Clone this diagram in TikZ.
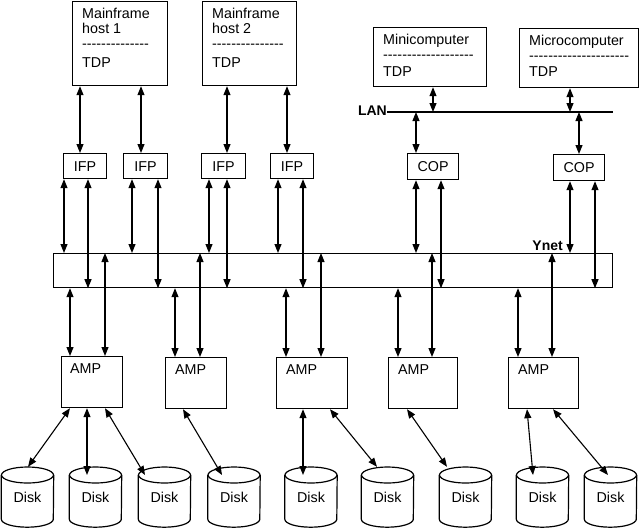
\documentclass[tikz,border=0pt]{standalone}
\usepackage{fontspec}
\setmainfont{Liberation Sans}
\usetikzlibrary{arrows.meta}
\newcommand\hy{\mbox{-}}
\newcommand\dashrow[1]{\foreach \i in {1,...,#1}{\hy}}
\newcommand\diskc[2]{%
  \node[diskbox] (#1) at (#2,497) {Disk};
  \coordinate (#1top) at (#2,475);
  \draw[boxline] (#1top) ellipse [x radius=26pt, y radius=8pt];
  \draw[boxline] ([yshift=-8pt]#1.north west) -- ([yshift=8pt]#1.south west)
     arc [start angle=180, end angle=360, x radius=26pt, y radius=8pt]
     -- ([yshift=-8pt]#1.north east);
}
\begin{document}
\begin{tikzpicture}[x=1pt,y=-1pt,
  boxline/.style={line width=1.2pt},
  box/.style={draw, line width=1.2pt, rectangle, inner sep=0pt, anchor=north west,
              font=\fontsize{14.3}{16}\selectfont},
  txt/.style={font=\fontsize{14.3}{16}\selectfont, inner sep=0pt, anchor=base west},
  bl/.style={font=\fontsize{14}{16}\selectfont\bfseries, inner sep=0pt},
  diskbox/.style={minimum width=52pt, minimum height=60pt, inner sep=0pt,
                  font=\fontsize{14.3}{16}\selectfont},
  conn/.style={line width=1.1pt, {Triangle[length=9pt,width=7pt]}-{Triangle[length=9pt,width=7pt]}},
  plain/.style={line width=1.1pt}]
\useasboundingbox (0,0) rectangle (640,531);

% ---- top hosts
\node[box, minimum width=95pt, minimum height=84pt] (mf1) at (72,1) {};
\node[txt] (mf1a) at (82,18) {Mainframe};
\node[txt] (mf1b) at (82,33) {host 1};
\node[txt] (mf1c) at (82,48) {\dashrow{14}};
\node[txt] (mf1d) at (82,67) {TDP};

\node[box, minimum width=94pt, minimum height=84pt] (mf2) at (202,1) {};
\node[txt] (mf2a) at (212,18) {Mainframe};
\node[txt] (mf2b) at (212,33) {host 2};
\node[txt] (mf2c) at (212,48) {\dashrow{15}};
\node[txt] (mf2d) at (212,67) {TDP};

\node[box, minimum width=113pt, minimum height=59pt] (mini) at (373,27) {};
\node[txt] (minia) at (383,44) {Minicomputer};
\node[txt] (minic) at (383,59) {\dashrow{19}};
\node[txt] (minid) at (383,76) {TDP};

\node[box, minimum width=119pt, minimum height=59pt] (micro) at (519,28) {};
\node[txt] (microa) at (529,45) {Microcomputer};
\node[txt] (microc) at (529,60) {\dashrow{21}};
\node[txt] (microd) at (529,76) {TDP};

% ---- LAN
\coordinate (lanL) at (387,112);
\coordinate (lanR) at (613,112);
\draw[plain] (lanL) -- (lanR);
\node[bl, anchor=base east] (lan) at ([yshift=-3pt]lanL) {LAN};

% ---- IFP / COP
\node[box, minimum width=43pt, minimum height=25pt] (ifp1) at (63,153) {IFP};
\node[box, minimum width=44pt, minimum height=25pt] (ifp2) at (123,153) {IFP};
\node[box, minimum width=44pt, minimum height=25pt] (ifp3) at (201,153) {IFP};
\node[box, minimum width=43pt, minimum height=25pt] (ifp4) at (270,153) {IFP};
\node[box, minimum width=51pt, minimum height=26pt] (cop1) at (407,153) {COP};
\node[box, minimum width=51pt, minimum height=26pt] (cop2) at (553,154) {COP};

% ---- Ynet
\node[box, minimum width=559pt, minimum height=34pt] (ynet) at (53,253) {};
\node[bl, anchor=base east] (ynetlbl) at (563,250) {Ynet};

% ---- AMPs
\node[box, minimum width=61pt, minimum height=51pt] (amp1) at (61,356) {};
\node[box, minimum width=61pt, minimum height=51pt] (amp2) at (165,357) {};
\node[box, minimum width=71pt, minimum height=51pt] (amp3) at (276,357) {};
\node[box, minimum width=69pt, minimum height=51pt] (amp4) at (388,357) {};
\node[box, minimum width=70pt, minimum height=51pt] (amp5) at (508,357) {};
\node[txt] (amp1t) at (70,373) {AMP};
\node[txt] (amp2t) at (175,374) {AMP};
\node[txt] (amp3t) at (286,374) {AMP};
\node[txt] (amp4t) at (398,374) {AMP};
\node[txt] (amp5t) at (518,374) {AMP};

% ---- Disks
\diskc{d1}{27.5}
\diskc{d2}{95.5}
\diskc{d3}{164.5}
\diskc{d4}{234}
\diskc{d5}{311}
\diskc{d6}{387.5}
\diskc{d7}{465.5}
\diskc{d8}{542.5}
\diskc{d9}{610.5}

% ---- hosts to IFP
\draw[conn] (mf1.south -| 80,0) -- (ifp1.north -| 80,0);
\draw[conn] (mf1.south -| 141,0) -- (ifp2.north -| 141,0);
\draw[conn] (mf2.south -| 227,0) -- (ifp3.north -| 227,0);
\draw[conn] (mf2.south -| 287,0) -- (ifp4.north -| 287,0);

% ---- LAN connections
\draw[conn] (mini.south -| 433,0) -- (lanL -| 433,0);
\draw[conn] (micro.south -| 570,0) -- (lanL -| 570,0);
\draw[conn] (lanL -| 416,0) -- (cop1.north -| 416,0);
\draw[conn] (lanL -| 579,0) -- (cop2.north -| 579,0);

% ---- IFP/COP to Ynet
\draw[conn] (ifp1.south -| 64,0) -- (ynet.north -| 64,0);
\draw[conn] (ifp1.south -| 88,0) -- (ynet.south -| 88,0);
\draw[conn] (ifp2.south -| 132,0) -- (ynet.north -| 132,0);
\draw[conn] (ifp2.south -| 158,0) -- (ynet.south -| 158,0);
\draw[conn] (ifp3.south -| 209,0) -- (ynet.north -| 209,0);
\draw[conn] (ifp3.south -| 227,0) -- (ynet.south -| 227,0);
\draw[conn] (ifp4.south -| 278,0) -- (ynet.north -| 278,0);
\draw[conn] (ifp4.south -| 303,0) -- (ynet.south -| 303,0);
\draw[conn] (cop1.south -| 416,0) -- (ynet.north -| 416,0);
\draw[conn] (cop1.south -| 441,0) -- (ynet.south -| 441,0);
\draw[conn] (cop2.south -| 570,0) -- (ynet.north -| 570,0);
\draw[conn] (cop2.south -| 595,0) -- (ynet.south -| 595,0);

% ---- Ynet to AMPs
\draw[conn] (ynet.south -| 70,0) -- (amp1.north -| 70,0);
\draw[conn] (ynet.north -| 105,0) -- (amp1.north -| 105,0);
\draw[conn] (ynet.south -| 175,0) -- (amp2.north -| 175,0);
\draw[conn] (ynet.north -| 200,0) -- (amp2.north -| 200,0);
\draw[conn] (ynet.south -| 286,0) -- (amp3.north -| 286,0);
\draw[conn] (ynet.north -| 321,0) -- (amp3.north -| 321,0);
\draw[conn] (ynet.south -| 398,0) -- (amp4.north -| 398,0);
\draw[conn] (ynet.north -| 432,0) -- (amp4.north -| 432,0);
\draw[conn] (ynet.south -| 518,0) -- (amp5.north -| 518,0);
\draw[conn] (ynet.north -| 552,0) -- (amp5.north -| 552,0);

% ---- AMPs to disks
\draw[conn] (amp1.south -| 70,0) -- (d1.north -| 28,0);
\draw[conn] (amp1.south -| 87,0) -- (d2top -| 87,0);
\draw[conn] (amp1.south -| 105,0) -- (d3top -| 145,0);
\draw[conn] (amp2.south -| 183,0) -- (d4top -| 222,0);
\draw[conn] (amp3.south -| 303,0) -- (d5top -| 303,0);
\draw[conn] (amp3.south -| 330,0) -- (d6.north -| 377,0);
\draw[conn] (amp4.south -| 407,0) -- (d7.north -| 447,0);
\draw[conn] (amp5.south -| 527,0) -- (d8top -| 533,0);
\draw[conn] (amp5.south -| 553,0) -- (d9top -| 608,0);
\end{tikzpicture}
\end{document}
